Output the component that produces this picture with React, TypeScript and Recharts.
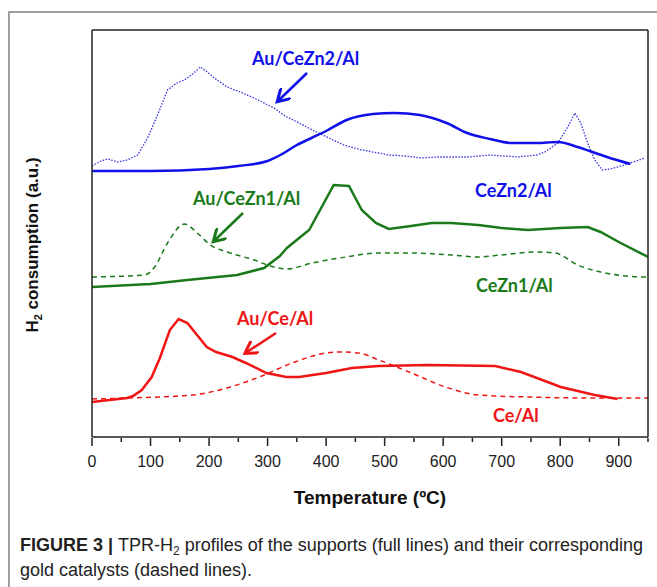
import React from 'react';
import { LineChart, Line, XAxis, YAxis } from 'recharts';

// temperature (ºC) / H2 consumption (a.u., arbitrary offset scale)
const ceAlT = [0, 60, 172, 230, 286, 342, 400, 422, 456, 490, 546, 604, 660, 745, 859, 950];
const ceAlV = [38, 39, 42, 49, 60, 74, 84, 85, 84, 77, 64, 50, 42, 40, 39, 39];

const auCeAlT = [0, 60, 70, 85, 102, 116, 133, 148, 163, 196, 212, 240, 263, 298, 332, 354, 400, 444, 490, 575, 689, 733, 801, 859, 898];
const auCeAlV = [35, 39, 41, 47, 60, 79, 107, 118, 114, 90, 85, 80, 74, 64, 60, 60, 64, 69, 71, 72, 71, 65, 50, 42, 38];

const ceZn1T = [0, 100, 163, 248, 294, 321, 333, 371, 413, 439, 461, 485, 507, 545, 580, 614, 660, 700, 745, 800, 847, 869, 900, 950];
const ceZn1V = [150, 153, 157, 162, 169, 181, 189, 207, 252, 251, 227, 214, 208, 211, 214, 214, 212, 209, 207, 209, 210, 205, 195, 180];

const auCeZn1T = [0, 90, 107, 129, 158, 180, 202, 231, 277, 311, 333, 376, 434, 490, 546, 614, 660, 699, 757, 791, 830, 869, 944, 950];
const auCeZn1V = [160, 162, 170, 194, 213, 204, 192, 185, 177, 170, 168, 174, 180, 184, 184, 182, 180, 182, 185, 184, 172, 165, 160, 160];

const ceZn2T = [0, 100, 200, 250, 300, 325, 350, 375, 400, 435, 480, 517, 560, 606, 641, 680, 716, 760, 796, 830, 850, 880, 920];
const ceZn2V = [266, 266, 268, 271, 276, 283, 292, 299, 306, 317, 323, 324, 322, 314, 304, 298, 294, 294, 295, 290, 286, 280, 273];

const auCeZn2T = [0, 15, 27, 44, 60, 78, 95, 112, 129, 145, 158, 172, 185, 197, 209, 231, 253, 277, 311, 330, 354, 380, 405, 430, 461, 490, 507, 535, 563, 590, 614, 643, 680, 728, 760, 774, 796, 813, 825, 835, 847, 859, 872, 885, 898, 920, 944];
const auCeZn2V = [271, 276, 278, 275, 277, 282, 299, 322, 347, 354, 357, 363, 370, 365, 359, 350, 345, 339, 329, 321, 314, 306, 299, 292, 287, 284, 282, 281, 279, 280, 280, 280, 282, 280, 282, 285, 294, 310, 324, 314, 294, 277, 267, 268, 270, 274, 279];

const xTicks = [0, 50, 100, 150, 200, 250, 300, 350, 400, 450, 500, 550, 600, 650, 700, 750, 800, 850, 900, 950];

const zip = (t: number[], v: number[]) => t.map((x, i) => ({ t: x, v: v[i] }));

const BLUE = '#1010e8';
const GREEN = '#1a7a1a';
const RED = '#f01515';
const AXIS = { stroke: '#222', strokeWidth: 1.5 };

const XTick = (props: any) => {
  const { x, y, payload } = props;
  const major = payload.value % 100 === 0;
  const y0 = y - 7;
  return (
    <g>
      <line x1={x} x2={x} y1={y0} y2={y0 + (major ? 8 : 4)} stroke="#222" strokeWidth={1.5} />
      {major && payload.value <= 900 && (
        <text x={x} y={y0 + 29} textAnchor="middle" fontSize={16} fill="#222"
          fontFamily="'Liberation Sans', Arial, sans-serif">{payload.value}</text>
      )}
    </g>
  );
};

const labelFont = "Lato, 'Open Sans', sans-serif";

export default function App() {
  return (
    <div style={{ position: 'absolute', left: 0, top: 0, width: 657, height: 587, background: '#fff', overflow: 'hidden' }}>
      <div style={{ position: 'absolute', left: 8, top: 11, width: 700, height: 700, borderLeft: '2px solid #a0a0a0', borderTop: '2px solid #a0a0a0' }} />
      <LineChart width={657} height={587} margin={{ top: 29, right: 8, left: 91, bottom: 149 }}
        style={{ position: 'absolute', left: 0, top: 0 }}>
        <XAxis xAxisId="b" dataKey="t" type="number" domain={[0, 950]} ticks={xTicks} height={1}
          axisLine={AXIS} tickLine={false} tick={<XTick />} interval={0} allowDataOverflow />
        <XAxis xAxisId="top" orientation="top" dataKey="t" type="number" domain={[0, 950]} height={1}
          axisLine={AXIS} tickLine={false} tick={false} />
        <YAxis yAxisId="l" type="number" domain={[0, 407]} width={1}
          axisLine={AXIS} tickLine={false} tick={false} allowDataOverflow />
        <YAxis yAxisId="r" orientation="right" type="number" domain={[0, 407]} width={1}
          axisLine={AXIS} tickLine={false} tick={false} />
        <Line xAxisId="b" yAxisId="l" data={zip(ceAlT, ceAlV)} dataKey="v" type="monotone" stroke={RED}
          strokeWidth={1.5} strokeDasharray="5 4" dot={false} isAnimationActive={false} />
        <Line xAxisId="b" yAxisId="l" data={zip(auCeAlT, auCeAlV)} dataKey="v" type="linear" stroke={RED}
          strokeWidth={2.5} dot={false} isAnimationActive={false} />
        <Line xAxisId="b" yAxisId="l" data={zip(auCeZn1T, auCeZn1V)} dataKey="v" type="monotone" stroke={GREEN}
          strokeWidth={1.5} strokeDasharray="5 4" dot={false} isAnimationActive={false} />
        <Line xAxisId="b" yAxisId="l" data={zip(ceZn1T, ceZn1V)} dataKey="v" type="linear" stroke={GREEN}
          strokeWidth={2.5} dot={false} isAnimationActive={false} />
        <Line xAxisId="b" yAxisId="l" data={zip(auCeZn2T, auCeZn2V)} dataKey="v" type="linear" stroke="#3535e0"
          strokeWidth={1.3} strokeDasharray="1.5 1.5" dot={false} isAnimationActive={false} />
        <Line xAxisId="b" yAxisId="l" data={zip(ceZn2T, ceZn2V)} dataKey="v" type="monotone" stroke={BLUE}
          strokeWidth={2.5} dot={false} isAnimationActive={false} />
      </LineChart>
      <svg width={657} height={587} style={{ position: 'absolute', left: 0, top: 0, pointerEvents: 'none' }}>
        <defs>
          <marker id="hb" markerWidth="6" markerHeight="6" refX="4" refY="3" orient="auto" markerUnits="strokeWidth">
            <path d="M0,0 L5,3 L0,6" fill="none" stroke={BLUE} strokeWidth={1.2} />
          </marker>
          <marker id="hg" markerWidth="6" markerHeight="6" refX="4" refY="3" orient="auto" markerUnits="strokeWidth">
            <path d="M0,0 L5,3 L0,6" fill="none" stroke={GREEN} strokeWidth={1.2} />
          </marker>
          <marker id="hr" markerWidth="6" markerHeight="6" refX="4" refY="3" orient="auto" markerUnits="strokeWidth">
            <path d="M0,0 L5,3 L0,6" fill="none" stroke={RED} strokeWidth={1.2} />
          </marker>
        </defs>
        <g fontFamily={labelFont} fontWeight="bold" fontSize={18}>
          <text x={252} y={65} fill={BLUE}>Au/CeZn2/Al</text>
          <text x={475} y={197} fill={BLUE}>CeZn2/Al</text>
          <text x={193} y={205} fill={GREEN}>Au/CeZn1/Al</text>
          <text x={476} y={292} fill={GREEN}>CeZn1/Al</text>
          <text x={237} y={325} fill={RED}>Au/Ce/Al</text>
          <text x={493} y={422} fill={RED}>Ce/Al</text>
        </g>
        <line x1={307} y1={73} x2={279} y2={100} stroke={BLUE} strokeWidth={2.5} markerEnd="url(#hb)" />
        <line x1={243} y1={213} x2={215} y2={240} stroke={GREEN} strokeWidth={2.5} markerEnd="url(#hg)" />
        <line x1={276} y1={333} x2={247} y2={352} stroke={RED} strokeWidth={2.5} markerEnd="url(#hr)" />
        <text x={370} y={504} textAnchor="middle" fontSize={19} fontWeight="bold" fill="#111"
          fontFamily="'Liberation Sans', Arial, sans-serif">Temperature (ºC)</text>
        <text transform="translate(38,245) rotate(-90)" textAnchor="middle" fontSize={17} fontWeight="bold" fill="#111"
          fontFamily="'Liberation Sans', Arial, sans-serif">
          H<tspan fontSize={11} dy={4}>2</tspan><tspan dy={-4}> consumption (a.u.)</tspan>
        </text>
        <g fontFamily="'Liberation Sans', Arial, sans-serif" fontSize={18} fill="#222">
          <text x={20} y={551}>
            <tspan fontWeight="bold">FIGURE 3 | </tspan>TPR-H<tspan fontSize={12} dy={4}>2</tspan><tspan dy={-4}> profiles of the supports (full lines) and their corresponding</tspan>
          </text>
          <text x={20} y={576}>gold catalysts (dashed lines).</text>
        </g>
      </svg>
    </div>
  );
}
